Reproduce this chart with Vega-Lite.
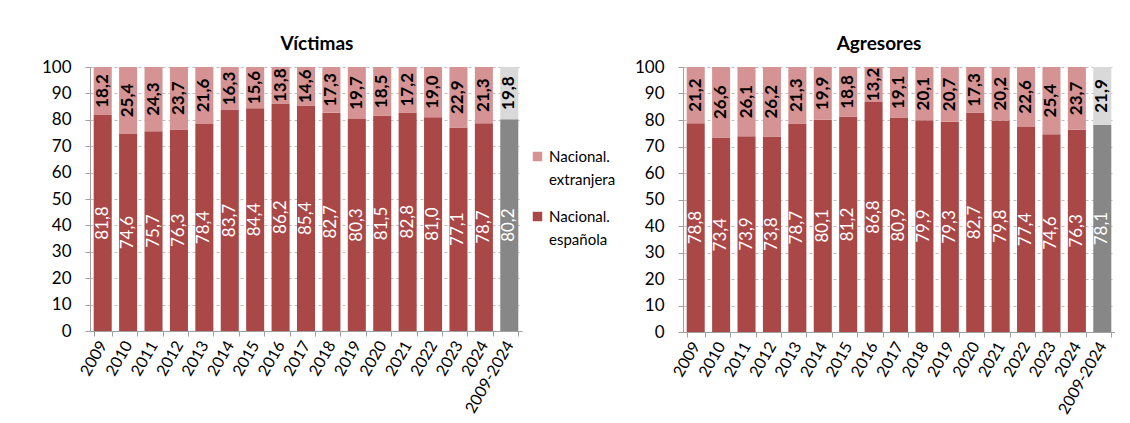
{
  "$schema": "https://vega.github.io/schema/vega-lite/v6.json",
  "background": "white",
  "padding": {"left": 41, "top": 35, "right": 0, "bottom": 0},
  "spacing": 18,
  "config": {
    "locale": {"number": {"decimal": ",", "thousands": ".", "grouping": [3], "currency": ["", " €"]}},
    "font": "Lato",
    "view": {"stroke": null},
    "axis": {
      "domainColor": "#A0A0A0",
      "tickColor": "#A0A0A0",
      "tickSize": 5,
      "labelColor": "#000000",
      "labelFont": "Lato",
      "gridColor": "#BFBFBF",
      "gridDash": [3, 3],
      "title": null
    },
    "title": {"fontSize": 19, "fontWeight": "bold", "color": "#000000", "font": "Lato", "offset": 4}
  },
  "datasets": {
    "d": [
      {"panel": "Víctimas", "periodo": "2009", "serie": "Nacional. española", "valor": 81.8},
      {"panel": "Víctimas", "periodo": "2009", "serie": "Nacional. extranjera", "valor": 18.2},
      {"panel": "Víctimas", "periodo": "2010", "serie": "Nacional. española", "valor": 74.6},
      {"panel": "Víctimas", "periodo": "2010", "serie": "Nacional. extranjera", "valor": 25.4},
      {"panel": "Víctimas", "periodo": "2011", "serie": "Nacional. española", "valor": 75.7},
      {"panel": "Víctimas", "periodo": "2011", "serie": "Nacional. extranjera", "valor": 24.3},
      {"panel": "Víctimas", "periodo": "2012", "serie": "Nacional. española", "valor": 76.3},
      {"panel": "Víctimas", "periodo": "2012", "serie": "Nacional. extranjera", "valor": 23.7},
      {"panel": "Víctimas", "periodo": "2013", "serie": "Nacional. española", "valor": 78.4},
      {"panel": "Víctimas", "periodo": "2013", "serie": "Nacional. extranjera", "valor": 21.6},
      {"panel": "Víctimas", "periodo": "2014", "serie": "Nacional. española", "valor": 83.7},
      {"panel": "Víctimas", "periodo": "2014", "serie": "Nacional. extranjera", "valor": 16.3},
      {"panel": "Víctimas", "periodo": "2015", "serie": "Nacional. española", "valor": 84.4},
      {"panel": "Víctimas", "periodo": "2015", "serie": "Nacional. extranjera", "valor": 15.6},
      {"panel": "Víctimas", "periodo": "2016", "serie": "Nacional. española", "valor": 86.2},
      {"panel": "Víctimas", "periodo": "2016", "serie": "Nacional. extranjera", "valor": 13.8},
      {"panel": "Víctimas", "periodo": "2017", "serie": "Nacional. española", "valor": 85.4},
      {"panel": "Víctimas", "periodo": "2017", "serie": "Nacional. extranjera", "valor": 14.6},
      {"panel": "Víctimas", "periodo": "2018", "serie": "Nacional. española", "valor": 82.7},
      {"panel": "Víctimas", "periodo": "2018", "serie": "Nacional. extranjera", "valor": 17.3},
      {"panel": "Víctimas", "periodo": "2019", "serie": "Nacional. española", "valor": 80.3},
      {"panel": "Víctimas", "periodo": "2019", "serie": "Nacional. extranjera", "valor": 19.7},
      {"panel": "Víctimas", "periodo": "2020", "serie": "Nacional. española", "valor": 81.5},
      {"panel": "Víctimas", "periodo": "2020", "serie": "Nacional. extranjera", "valor": 18.5},
      {"panel": "Víctimas", "periodo": "2021", "serie": "Nacional. española", "valor": 82.8},
      {"panel": "Víctimas", "periodo": "2021", "serie": "Nacional. extranjera", "valor": 17.2},
      {"panel": "Víctimas", "periodo": "2022", "serie": "Nacional. española", "valor": 81.0},
      {"panel": "Víctimas", "periodo": "2022", "serie": "Nacional. extranjera", "valor": 19.0},
      {"panel": "Víctimas", "periodo": "2023", "serie": "Nacional. española", "valor": 77.1},
      {"panel": "Víctimas", "periodo": "2023", "serie": "Nacional. extranjera", "valor": 22.9},
      {"panel": "Víctimas", "periodo": "2024", "serie": "Nacional. española", "valor": 78.7},
      {"panel": "Víctimas", "periodo": "2024", "serie": "Nacional. extranjera", "valor": 21.3},
      {"panel": "Víctimas", "periodo": "2009-2024", "serie": "Total española", "valor": 80.2},
      {"panel": "Víctimas", "periodo": "2009-2024", "serie": "Total extranjera", "valor": 19.8},
      {"panel": "Agresores", "periodo": "2009", "serie": "Nacional. española", "valor": 78.8},
      {"panel": "Agresores", "periodo": "2009", "serie": "Nacional. extranjera", "valor": 21.2},
      {"panel": "Agresores", "periodo": "2010", "serie": "Nacional. española", "valor": 73.4},
      {"panel": "Agresores", "periodo": "2010", "serie": "Nacional. extranjera", "valor": 26.6},
      {"panel": "Agresores", "periodo": "2011", "serie": "Nacional. española", "valor": 73.9},
      {"panel": "Agresores", "periodo": "2011", "serie": "Nacional. extranjera", "valor": 26.1},
      {"panel": "Agresores", "periodo": "2012", "serie": "Nacional. española", "valor": 73.8},
      {"panel": "Agresores", "periodo": "2012", "serie": "Nacional. extranjera", "valor": 26.2},
      {"panel": "Agresores", "periodo": "2013", "serie": "Nacional. española", "valor": 78.7},
      {"panel": "Agresores", "periodo": "2013", "serie": "Nacional. extranjera", "valor": 21.3},
      {"panel": "Agresores", "periodo": "2014", "serie": "Nacional. española", "valor": 80.1},
      {"panel": "Agresores", "periodo": "2014", "serie": "Nacional. extranjera", "valor": 19.9},
      {"panel": "Agresores", "periodo": "2015", "serie": "Nacional. española", "valor": 81.2},
      {"panel": "Agresores", "periodo": "2015", "serie": "Nacional. extranjera", "valor": 18.8},
      {"panel": "Agresores", "periodo": "2016", "serie": "Nacional. española", "valor": 86.8},
      {"panel": "Agresores", "periodo": "2016", "serie": "Nacional. extranjera", "valor": 13.2},
      {"panel": "Agresores", "periodo": "2017", "serie": "Nacional. española", "valor": 80.9},
      {"panel": "Agresores", "periodo": "2017", "serie": "Nacional. extranjera", "valor": 19.1},
      {"panel": "Agresores", "periodo": "2018", "serie": "Nacional. española", "valor": 79.9},
      {"panel": "Agresores", "periodo": "2018", "serie": "Nacional. extranjera", "valor": 20.1},
      {"panel": "Agresores", "periodo": "2019", "serie": "Nacional. española", "valor": 79.3},
      {"panel": "Agresores", "periodo": "2019", "serie": "Nacional. extranjera", "valor": 20.7},
      {"panel": "Agresores", "periodo": "2020", "serie": "Nacional. española", "valor": 82.7},
      {"panel": "Agresores", "periodo": "2020", "serie": "Nacional. extranjera", "valor": 17.3},
      {"panel": "Agresores", "periodo": "2021", "serie": "Nacional. española", "valor": 79.8},
      {"panel": "Agresores", "periodo": "2021", "serie": "Nacional. extranjera", "valor": 20.2},
      {"panel": "Agresores", "periodo": "2022", "serie": "Nacional. española", "valor": 77.4},
      {"panel": "Agresores", "periodo": "2022", "serie": "Nacional. extranjera", "valor": 22.6},
      {"panel": "Agresores", "periodo": "2023", "serie": "Nacional. española", "valor": 74.6},
      {"panel": "Agresores", "periodo": "2023", "serie": "Nacional. extranjera", "valor": 25.4},
      {"panel": "Agresores", "periodo": "2024", "serie": "Nacional. española", "valor": 76.3},
      {"panel": "Agresores", "periodo": "2024", "serie": "Nacional. extranjera", "valor": 23.7},
      {"panel": "Agresores", "periodo": "2009-2024", "serie": "Total española", "valor": 78.1},
      {"panel": "Agresores", "periodo": "2009-2024", "serie": "Total extranjera", "valor": 21.9}
    ]
  },
  "resolve": {"scale": {"color": "independent"}, "legend": {"color": "independent"}},
  "hconcat": [
    {
      "width": 432,
      "height": 264,
      "title": {"text": "Víctimas", "dx": 11},
      "data": {"name": "d"},
      "transform": [{"filter": "datum.panel === 'Víctimas'"}],
      "encoding": {
        "x": {"field": "periodo", "type": "nominal", "sort": null,
              "scale": {"paddingInner": 0.29, "paddingOuter": 0.145},
              "axis": {"labelAngle": -60, "labelFontSize": 16, "tickBand": "extent", "labelPadding": 6}},
        "y": {"field": "valor", "type": "quantitative", "stack": "zero",
              "scale": {"domain": [0, 100], "nice": false},
              "axis": {"values": [0, 10, 20, 30, 40, 50, 60, 70, 80, 90, 100], "labelFontSize": 17, "labelPadding": 14, "grid": true}},
        "detail": {"field": "serie"},
        "order": {"field": "serie", "sort": "ascending"}
      },
      "layer": [
        {
          "mark": {"type": "bar"},
          "encoding": {
            "color": {"field": "serie", "type": "nominal",
              "scale": {"domain": ["Nacional. extranjera", "Nacional. española", "Total española", "Total extranjera"],
                        "range": ["#D59393", "#AA4848", "#878787", "#D9D9D9"]},
              "legend": {"orient": "none", "legendX": 440, "legendY": 82, "title": null,
                         "values": ["Nacional. extranjera", "Nacional. española"],
                         "labelExpr": "datum.label == 'Nacional. extranjera' ? ['Nacional.', 'extranjera'] : ['Nacional.', 'española']",
                         "symbolType": "square", "symbolSize": 90, "symbolStrokeWidth": 0,
                         "labelFontSize": 15, "labelColor": "#000000", "labelFont": "Lato", "rowPadding": 21, "labelLimit": 200,
                         "encode": {"labels": {"update": {"lineHeight": {"value": 23}}}}}}
          }
        },
        {
          "mark": {"type": "text", "angle": 270, "fontSize": 17, "fontWeight": "bold", "color": "#000000"},
          "encoding": {
            "y": {"field": "valor", "type": "quantitative", "stack": "zero", "bandPosition": 0.5},
            "text": {"condition": {"test": "indexof(datum.serie, 'española') >= 0", "value": ""}, "field": "valor", "type": "quantitative", "format": ".1f"}
          }
        },
        {
          "mark": {"type": "text", "angle": 270, "fontSize": 17, "color": "#FFFFFF"},
          "encoding": {
            "y": {"field": "valor", "type": "quantitative", "stack": "zero", "bandPosition": 0.5},
            "text": {"condition": {"test": "indexof(datum.serie, 'extranjera') >= 0", "value": ""}, "field": "valor", "type": "quantitative", "format": ".1f"}
          }
        }
      ]
    },
    {
      "width": 432,
      "height": 265,
      "title": {"text": "Agresores", "dx": -20},
      "data": {"name": "d"},
      "transform": [{"filter": "datum.panel === 'Agresores'"}],
      "encoding": {
        "x": {"field": "periodo", "type": "nominal", "sort": null,
              "scale": {"paddingInner": 0.29, "paddingOuter": 0.145},
              "axis": {"labelAngle": -60, "labelFontSize": 16, "tickBand": "extent", "labelPadding": 6}},
        "y": {"field": "valor", "type": "quantitative", "stack": "zero",
              "scale": {"domain": [0, 100], "nice": false},
              "axis": {"values": [0, 10, 20, 30, 40, 50, 60, 70, 80, 90, 100], "labelFontSize": 17, "labelPadding": 14, "grid": true}},
        "detail": {"field": "serie"},
        "order": {"field": "serie", "sort": "ascending"}
      },
      "layer": [
        {
          "mark": {"type": "bar"},
          "encoding": {
            "color": {"field": "serie", "type": "nominal",
              "scale": {"domain": ["Nacional. extranjera", "Nacional. española", "Total española", "Total extranjera"],
                        "range": ["#D59393", "#AA4848", "#878787", "#D9D9D9"]},
              "legend": null}
          }
        },
        {
          "mark": {"type": "text", "angle": 270, "fontSize": 17, "fontWeight": "bold", "color": "#000000"},
          "encoding": {
            "y": {"field": "valor", "type": "quantitative", "stack": "zero", "bandPosition": 0.5},
            "text": {"condition": {"test": "indexof(datum.serie, 'española') >= 0", "value": ""}, "field": "valor", "type": "quantitative", "format": ".1f"}
          }
        },
        {
          "mark": {"type": "text", "angle": 270, "fontSize": 17, "color": "#FFFFFF"},
          "encoding": {
            "y": {"field": "valor", "type": "quantitative", "stack": "zero", "bandPosition": 0.5},
            "text": {"condition": {"test": "indexof(datum.serie, 'extranjera') >= 0", "value": ""}, "field": "valor", "type": "quantitative", "format": ".1f"}
          }
        }
      ]
    }
  ]
}
